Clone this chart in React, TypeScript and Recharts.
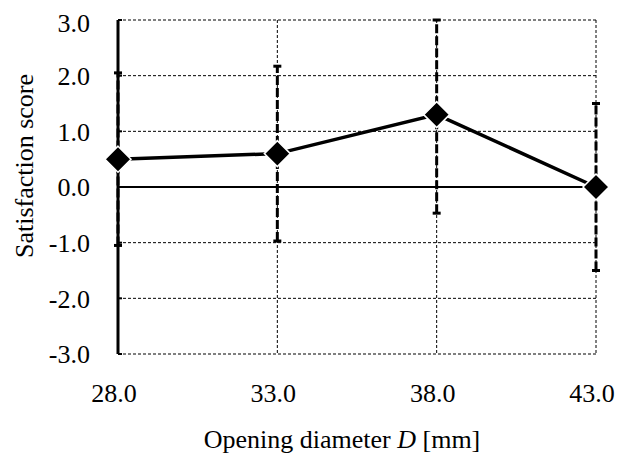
import { CartesianGrid, ErrorBar, Line, LineChart, ReferenceLine, XAxis, YAxis } from "recharts";

const diameters = [28, 33, 38, 43];
const scores = [0.5, 0.6, 1.3, 0.0];
const spread = [1.55, 1.57, 1.77, 1.5];
const xTicks = [28, 33, 38, 43];
const yTicks = [-3, -2, -1, 0, 1, 2, 3];

const Y_MIN = -3;
const Y_MAX = 3;
const FONT = "'Liberation Serif', 'Times New Roman', serif";
const FS = 26;

// bars are cut at the plot frame, like in the original
const data = diameters.map((d, i) => ({
  d,
  score: scores[i],
  err: [Math.min(spread[i], scores[i] - Y_MIN), Math.min(spread[i], Y_MAX - scores[i])],
}));

function Diamond(props: any) {
  const { cx, cy } = props;
  if (cx == null || cy == null) return null;
  const r = 13;
  return (
    <path
      d={`M${cx},${cy - r} L${cx + r},${cy} L${cx},${cy + r} L${cx - r},${cy} Z`}
      fill="#000"
      stroke="#fff"
      strokeWidth={1.5}
    />
  );
}

function XLabel({ viewBox }: any) {
  const { x, y, width } = viewBox;
  return (
    <text x={x + width / 2 - 15} y={y + 94} textAnchor="middle" fontFamily={FONT} fontSize={FS} fill="#000">
      Opening diameter <tspan fontStyle="italic">D</tspan> [mm]
    </text>
  );
}

function YLabel({ viewBox }: any) {
  const { y, height } = viewBox;
  const cx = 25;
  const cy = y + height / 2 - 21;
  return (
    <text
      x={cx}
      y={cy}
      transform={`rotate(-90, ${cx}, ${cy})`}
      textAnchor="middle"
      fontFamily={FONT}
      fontSize={FS}
      fill="#000"
    >
      Satisfaction score
    </text>
  );
}

export default function App() {
  const tick = { fill: "#000", fontSize: FS, fontFamily: FONT };
  return (
    <LineChart width={616} height={447} data={data} margin={{ top: 12, right: 28, bottom: 0, left: 0 }}>
      <CartesianGrid stroke="#000" strokeWidth={1} strokeDasharray="3 2" />
      <ReferenceLine y={0} stroke="#000" strokeWidth={2} />
      <XAxis
        dataKey="d"
        type="number"
        domain={[28, 43]}
        ticks={xTicks}
        tickFormatter={(v: number) => v.toFixed(1)}
        axisLine={false}
        tickLine={false}
        tickSize={0}
        tickMargin={30}
        height={101}
        tick={{ ...tick, dx: -4 }}
        label={<XLabel />}
      />
      <YAxis
        type="number"
        domain={[Y_MIN, Y_MAX]}
        ticks={yTicks}
        tickFormatter={(v: number) => v.toFixed(1)}
        axisLine={{ stroke: "#000", strokeWidth: 3 }}
        tickLine={{ stroke: "#000", strokeWidth: 2 }}
        tickSize={-4}
        tickMargin={32}
        width={110}
        tick={tick}
        label={<YLabel />}
      />
      <Line
        dataKey="score"
        type="linear"
        stroke="#000"
        strokeWidth={3.5}
        dot={<Diamond />}
        activeDot={false}
        isAnimationActive={false}
      >
        <ErrorBar dataKey="err" direction="y" width={4} stroke="#000" strokeWidth={3} strokeDasharray="9 3" />
      </Line>
    </LineChart>
  );
}
